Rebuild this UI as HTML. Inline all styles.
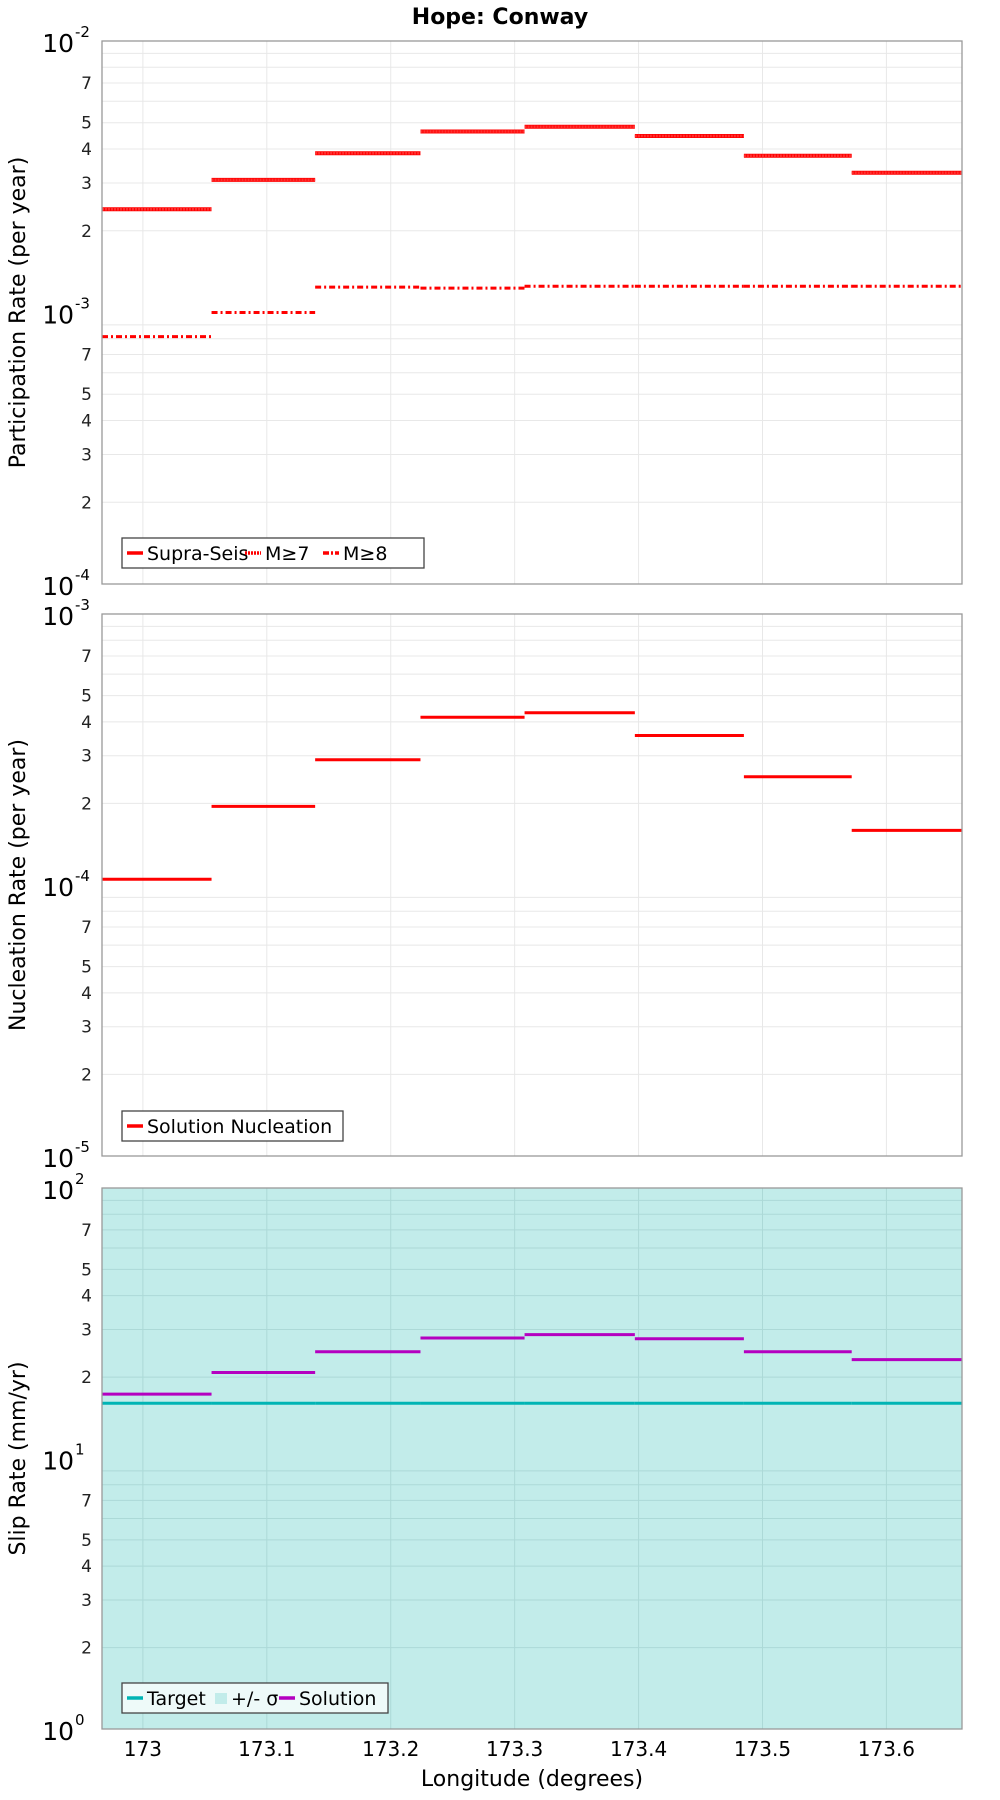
<!DOCTYPE html>
<html><head><meta charset="utf-8"><style>
body{margin:0;background:#fff;}
svg{display:block;font-family:"DejaVu Sans","Liberation Sans",sans-serif;}
</style></head><body>
<svg id="chart" width="1000" height="1800" viewBox="0 0 1000 1800" xmlns="http://www.w3.org/2000/svg">
<text x="500" y="24" text-anchor="middle" font-size="22" font-weight="bold">Hope: Conway</text>
<g id="layer"></g>
<text x="532" y="1786" text-anchor="middle" font-size="22">Longitude (degrees)</text>
</svg>
<script>
const edges = [172.967, 173.0554, 173.139, 173.224, 173.308, 173.397, 173.485, 173.572, 173.661];
const xTicks = [173, 173.1, 173.2, 173.3, 173.4, 173.5, 173.6];
const xTickLabels = ["173","173.1","173.2","173.3","173.4","173.5","173.6"];
const supraSeis = [2.4e-3, 3.08e-3, 3.86e-3, 4.64e-3, 4.83e-3, 4.47e-3, 3.78e-3, 3.27e-3];
const m7 = [2.4e-3, 3.08e-3, 3.86e-3, 4.64e-3, 4.83e-3, 4.47e-3, 3.78e-3, 3.27e-3];
const m8 = [8.15e-4, 1.0e-3, 1.24e-3, 1.23e-3, 1.25e-3, 1.25e-3, 1.25e-3, 1.25e-3];
const nucleation = [1.05e-4, 1.95e-4, 2.9e-4, 4.16e-4, 4.32e-4, 3.56e-4, 2.51e-4, 1.59e-4];
const slipSolution = [17.3, 20.8, 24.8, 27.9, 28.7, 27.7, 24.8, 23.2];
const slipTarget = [16.0, 16.0, 16.0, 16.0, 16.0, 16.0, 16.0, 16.0];

const NS = "http://www.w3.org/2000/svg";
const layer = document.getElementById("layer");
const L = 102, R = 962;
const XMIN = 172.967, XMAX = 173.661;
function xs(v){ return L + (v - XMIN) / (XMAX - XMIN) * (R - L); }
function mk(tag, attrs, parent){
  const e = document.createElementNS(NS, tag);
  for (const k in attrs) e.setAttribute(k, attrs[k]);
  (parent || layer).appendChild(e);
  return e;
}
function panel(name, top, bottom, lo, hi, ytitle, shaded){
  const g = mk("g", {});
  
  
  const ys = v => bottom - (Math.log10(v) - lo) / (hi - lo) * (bottom - top);
  mk("rect", {x:L, y:top, width:R-L, height:bottom-top, fill: shaded ? "#c2ecea" : "#fff"}, g);
  const gridCol = shaded ? "#acd9d7" : "#e8e8e8";
  for (let d = lo; d < hi; d++) {
    for (let m = 1; m <= 9; m++) {
      const v = m * Math.pow(10, d);
      const y = ys(v);
      if (m > 1) {
        const gl = mk("line", {x1:L, x2:R, y1:y, y2:y, stroke:gridCol, "stroke-width":1}, g);
        
        
      }
      if ([2,3,4,5,7].includes(m)) {
        const t = mk("text", {x:L-10, y:y+6, "text-anchor":"end", "font-size":17, fill:"#222"}, g);
        
        
        t.textContent = m;
      }
    }
  }
  for (let d = lo; d <= hi; d++) {
    const y = ys(Math.pow(10, d));
    const t = mk("text", {x:L-28, y:y+11, "text-anchor":"end", "font-size":25}, g);
    
    
    t.textContent = "10";
    const s = mk("text", {x:L-27, y:y-4, "text-anchor":"start", "font-size":15}, g);
    
    
    s.textContent = String(d);
  }
  xTicks.forEach((v) => {
    const gl = mk("line", {x1:xs(v), x2:xs(v), y1:top, y2:bottom, stroke:gridCol, "stroke-width":1}, g);
    
    
  });
  const yt = mk("text", {transform:`translate(25,${(top+bottom)/2}) rotate(-90)`, "text-anchor":"middle", "font-size":22}, g);
  
  
  yt.textContent = ytitle;
  return {g, ys, top, bottom};
}
function steps(p, vals, name, color, dash, width){
  vals.forEach((v, i) => {
    const y = p.ys(v);
    const ln = mk("line", {x1:xs(edges[i]), x2:xs(edges[i+1]), y1:y, y2:y, stroke:color, "stroke-width":width, "stroke-dasharray":dash || "none"}, p.g);
    
    
  });
}
function border(p){
  const b = mk("rect", {x:L, y:p.top, width:R-L, height:p.bottom-p.top, fill:"none", stroke:"#999", "stroke-width":1.3}, p.g);
  
  
}
function legend(p, x, y, w, items, bg){
  const lg = mk("g", {}, p.g);
  
  
  mk("rect", {x:x, y:y, width:w, height:30, fill:bg, stroke:"#444", "stroke-width":1.3}, lg);
  let cx = x + 5;
  items.forEach(it => {
    const e = mk("g", {}, lg);
    
    
    if (it.box) mk("rect", {x:cx, y:y+10, width:12, height:11, fill:it.color}, e);
    else mk("line", {x1:cx, x2:cx+16, y1:y+15, y2:y+15, stroke:it.color, "stroke-width":3.5, "stroke-dasharray":it.dash||"none"}, e);
    const t = mk("text", {x:cx+(it.box?16:20), y:y+22, "font-size":19}, e);
    t.textContent = it.label;
    cx += it.w;
  });
}

// Panel 1
const p1 = panel("participation", 41, 584, -4, -2, "Participation Rate (per year)", false);
steps(p1, supraSeis, "supra-seis", "#ff0000", null, 4);
steps(p1, m7, "m7", "#ff3030", "2 1", 2.5);
steps(p1, m8, "m8", "#ff0000", "6 3 2 3", 3);
border(p1);
legend(p1, 122, 538, 302, [
  {label:"Supra-Seis", color:"#ff0000", w:118},
  {label:"M\u22657", color:"#ff0000", dash:"2 1", w:78},
  {label:"M\u22658", color:"#ff0000", dash:"6 2 2 2", w:80}], "#fff");

// Panel 2
const p2 = panel("nucleation", 614, 1156, -5, -3, "Nucleation Rate (per year)", false);
steps(p2, nucleation, "nucleation", "#ff0000", null, 3);
border(p2);
legend(p2, 122, 1111, 221, [{label:"Solution Nucleation", color:"#ff0000", w:215}], "#fff");

// Panel 3
const p3 = panel("slip-rate", 1188, 1729, 0, 2, "Slip Rate (mm/yr)", true);
steps(p3, slipTarget, "target", "#00b4b4", null, 3);
steps(p3, slipSolution, "solution", "#b400c0", null, 3);
border(p3);
legend(p3, 122, 1683, 266, [
  {label:"Target", color:"#00b4b4", w:88},
  {label:"+/- \u03c3", color:"#c2ecea", box:true, w:64},
  {label:"Solution", color:"#b400c0", w:110}], "#eefaf9");

// x tick labels
xTicks.forEach((v, i) => {
  const t = mk("text", {x:xs(v), y:1756, "text-anchor":"middle", "font-size":20});
  
  
  t.textContent = xTickLabels[i];
});
</script>
</body></html>
